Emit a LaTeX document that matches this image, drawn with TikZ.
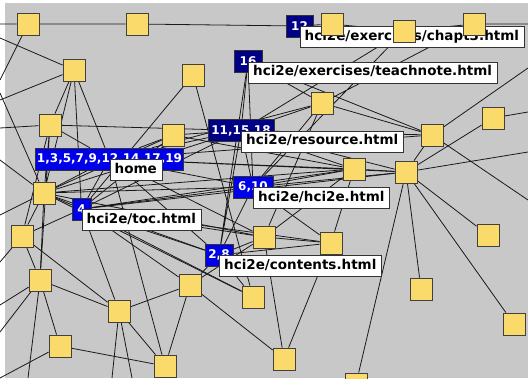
\documentclass[tikz,border=0pt]{standalone}
\usepackage{fontspec}
\setmainfont{DejaVu Sans}
\usetikzlibrary{backgrounds}
\definecolor{pagebg}{RGB}{200,200,200}
\definecolor{pagefill}{RGB}{250,218,106}
\definecolor{visitblue}{RGB}{0,0,232}
\definecolor{visitnavy}{RGB}{0,0,135}
\begin{document}
\begin{tikzpicture}
		[x=1pt,y=-1pt,
		page/.style={rectangle,draw=black!75,fill=pagefill,line width=0.8pt,minimum size=22pt,inner sep=0pt},
		visit/.style={rectangle,draw=black!80,fill=visitblue,text=white,font=\fontsize{12}{14}\selectfont\bfseries,minimum height=22pt,inner sep=1.5pt},
		oldvisit/.style={visit,fill=visitnavy},
		url/.style={rectangle,draw=black!80,fill=white,anchor=north west,font=\fontsize{13.5}{15}\selectfont\bfseries,minimum height=21pt,inner xsep=5pt,inner ysep=0pt,text height=10pt,text depth=3pt},
		link/.style={black!90,line width=0.8pt}]
		\useasboundingbox (0,0) rectangle (528,378);
		\clip (0,0) rectangle (528,378);

		% visited pages
		\node [visit,minimum width=145pt] (vhome) at (109.5,159) {1,3,5,7,9,12,14,17,19};
		\node [oldvisit,minimum width=27pt] (vchapt) at (299.5,26) {12};
		\node [oldvisit,minimum width=28pt] (vteach) at (248,61.5) {16};
		\node [oldvisit,minimum width=66pt] (vres) at (241,130.5) {11,15,18};
		\node [visit,minimum width=40pt] (vhci) at (253,187) {6,10};
		\node [visit,minimum width=19pt] (vtoc) at (81.5,209) {4};
		\node [visit,minimum width=28pt] (vcont) at (219,255) {2,8};

		% their urls
		\node [url] (lchapt) at (vchapt.center) {hci2e/exercises/chapt3.html};
		\node [url] (lteach) at (vteach.center) {hci2e/exercises/teachnote.html};
		\node [url] (lres) at (vres.center) {hci2e/resource.html};
		\node [url] (lhci) at (vhci.center) {hci2e/hci2e.html};
		\node [url] (lhome) at (vhome.center) {home};
		\node [url] (ltoc) at (vtoc.center) {hci2e/toc.html};
		\node [url] (lcont) at (vcont.center) {hci2e/contents.html};

		% the other pages
		\node [page] (a) at (28,24) {};
		\node [page] (b) at (137,24) {};
		\node [page] (c) at (74,70) {};
		\node [page] (d) at (193,75) {};
		\node [page] (e) at (50,125) {};
		\node [page] (f) at (173,135) {};
		\node [page] (g) at (44,193) {};
		\node [page] (h) at (22,236) {};
		\node [page] (i) at (40,280) {};
		\node [page] (j) at (119,311) {};
		\node [page] (k) at (190,285) {};
		\node [page] (l) at (60,346) {};
		\node [page] (m) at (165,366) {};
		\node [page] (n) at (253,297) {};
		\node [page] (o) at (264,237) {};
		\node [page] (p) at (331,243) {};
		\node [page] (q) at (284,359) {};
		\node [page] (r) at (356,384) {};
		\node [page] (s) at (421,289) {};
		\node [page] (t) at (488,235) {};
		\node [page] (u) at (514,324) {};
		\node [page] (v) at (406,172) {};
		\node [page] (w) at (354,169) {};
		\node [page] (x) at (432,135) {};
		\node [page] (y) at (493,118) {};
		\node [page] (z) at (322,103) {};
		\node [page] (aa) at (332,24) {};
		\node [page] (ab) at (404,31) {};
		\node [page] (ac) at (474,24) {};

		% links leaving the view
		\coordinate (w1) at (0,24);
		\coordinate (w2) at (0,80);
		\coordinate (w3) at (0,38);
		\coordinate (w4) at (0,100);
		\coordinate (w5) at (0,128);
		\coordinate (w6) at (0,93);
		\coordinate (w7) at (0,160);
		\coordinate (w8) at (0,215);
		\coordinate (w9) at (0,262);
		\coordinate (w10) at (0,305);
		\coordinate (w11) at (0,332);
		\coordinate (w12) at (0,378);
		\coordinate (e1) at (528,24);
		\coordinate (e2) at (528,68);
		\coordinate (e3) at (528,112);
		\coordinate (e4) at (528,152);
		\coordinate (e5) at (528,200);
		\coordinate (s1) at (28,378);
		\coordinate (s2) at (112,378);
		\coordinate (s3) at (132,378);

		\begin{pgfonlayer}{background}
			\begin{scope}
				\clip (0,0) rectangle (528,378);
				\fill [white] (0,0) rectangle (528,378);
				\fill [pagebg] (5,3) rectangle (528,378);

				% top row
				\draw [link] (w1) -- (a) -- (b) -- (vchapt) -- (aa) -- (ab) -- (ac) -- (e1);
				\draw [link] (a) -- (w2) (c) -- (w3) (c) -- (w4) (e) -- (w5) (g) -- (w6);
				\draw [link] (g) -- (w7) (g) -- (w8) (h) -- (w9) (i) -- (w10) (i) -- (w11) (l) -- (w12);
				\draw [link] (i) -- (s1) (j) -- (s2) (j) -- (s3);

				% left side
				\draw [link] (c) -- (e) (c) -- (g) (c) -- (vtoc) (c) -- (vhome);
				\draw [link] (d) -- (vtoc) (d) -- (n);
				\draw [link] (e) -- (g) (e) -- (vhome) (e) -- (i) (e) -- (h) (e) -- (vres);
				\draw [link] (g) -- (vhome) (g) -- (vtoc) (g) -- (vres) (g) -- (w) (g) -- (h) (g) -- (i);
				\draw [link] (g) -- (o) (g) -- (n) (g) -- (vcont) (g) -- (vhci) (g) -- (f);
				\draw [link] (h) -- (i) (h) -- (j) (h) -- (vtoc);
				\draw [link] (i) -- (l) (i) -- (j) (l) -- (m);

				% lower middle
				\draw [link] (j) -- (k) (j) -- (m) (vtoc) -- (j) (m) -- (k) (vhome) -- (m);
				\draw [link] (k) -- (vcont) (vtoc) -- (k) (k) -- (q) (k) -- (o);
				\draw [link] (n) -- (vtoc) (n) -- (vcont);
				\draw [link] (o) -- (vcont) (o) -- (p) (o) -- (vtoc) (o) -- (vhome) (o) -- (q) (o) -- (w) (z) -- (o);
				\draw [link] (p) -- (vhci) (p) -- (q) (w) -- (p) (p) -- (vcont) (p) -- (vtoc);

				% the busy middle
				\draw [link] (vcont) -- (vhome) (vcont) -- (vtoc) (vcont) -- (vhci) (vcont) -- (vres) (vcont) -- (vteach);
				\draw [link] (vhci) -- (vhome) (vhci) -- (vtoc) (vhci) -- (w) (vhci) -- (v) (vhci) -- (vres) (vhci) -- (z) (vhci) -- (vteach);
				\draw [link] (vres) -- (vhome) (vres) -- (f) (vres) -- (w) (vres) -- (x) (vres) -- (v) (vres) -- (z) (vres) -- (vtoc) (vres) -- (vteach);
				\draw [link] (vhome) -- (f) (vhome) -- (w) (vhome) -- (v) (vhome) -- (vtoc) (vhome) -- (x) (vhome) -- (z);
				\draw [link] (f) -- (vtoc) (f) -- (w) (vtoc) -- (w) (vtoc) -- (v);

				% upper right
				\draw [link] (ab) -- (vres) (ab) -- (vhci) (z) -- (ac) (z) -- (x) (vteach) -- (z) (vteach) -- (x);
				\draw [link] (x) -- (e2) (x) -- (e5) (x) -- (v) (y) -- (e3) (w) -- (v);
				\draw [link] (v) -- (r) (v) -- (s) (v) -- (u) (v) -- (t) (v) -- (y) (v) -- (e4);
			\end{scope}
		\end{pgfonlayer}
	\end{tikzpicture}
\end{document}
